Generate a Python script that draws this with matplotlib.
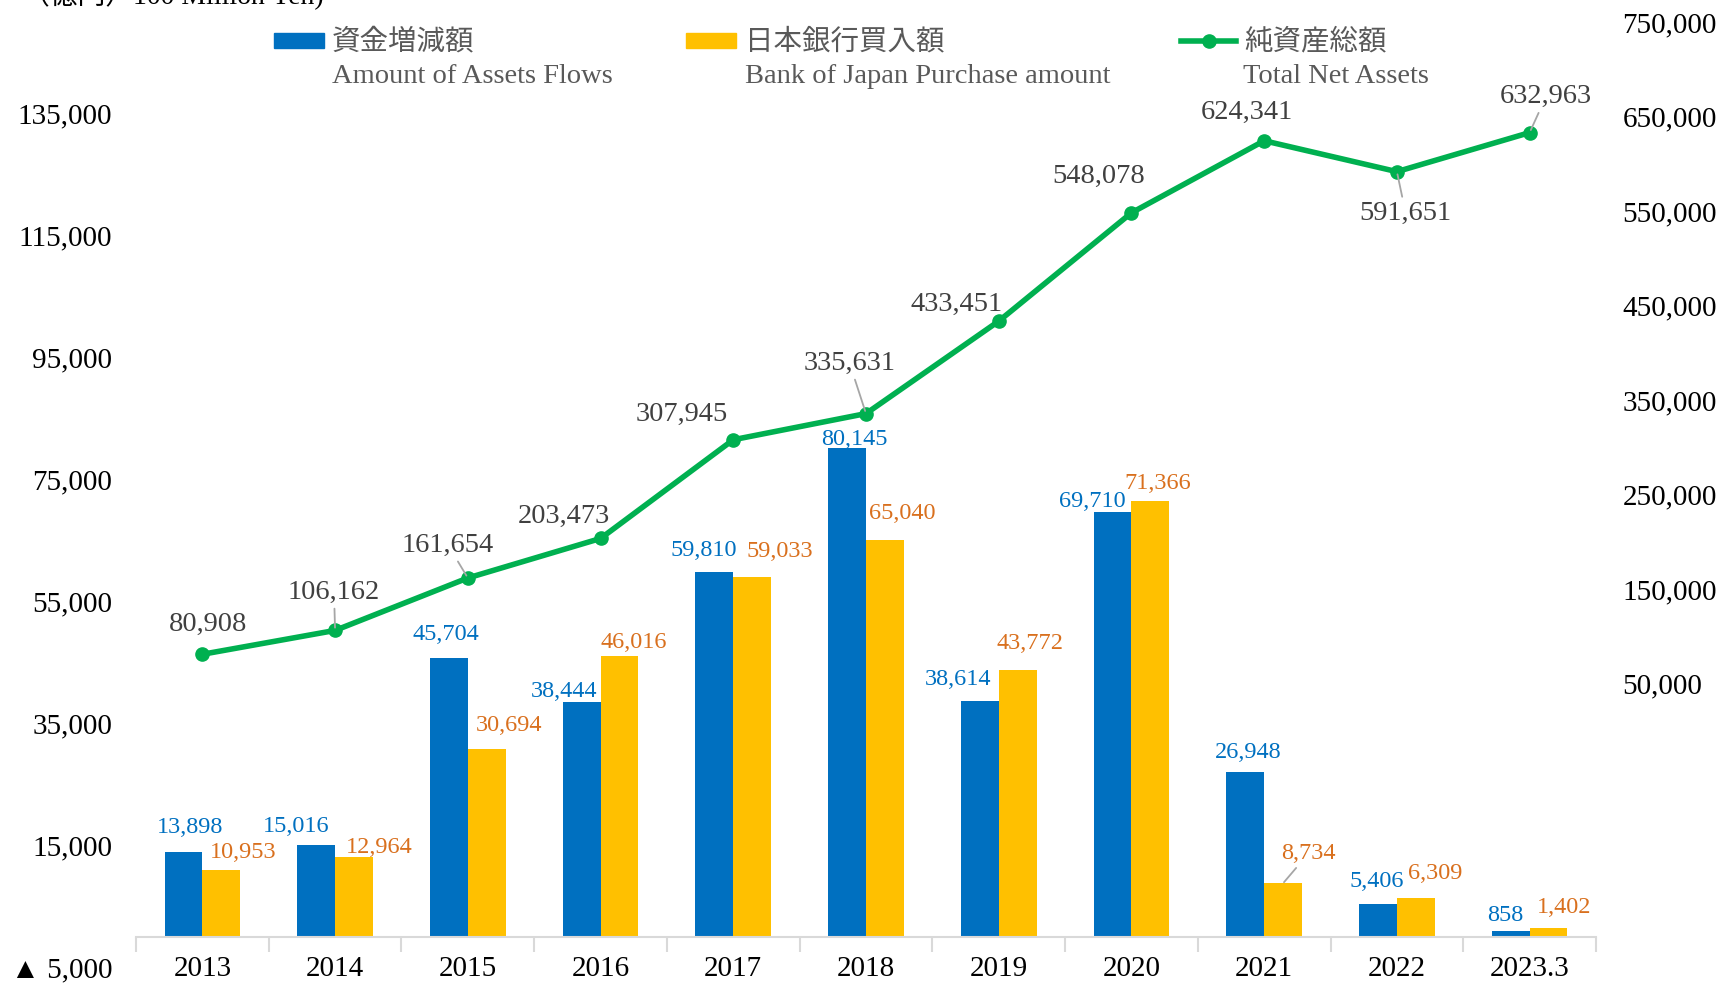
import numpy as np
import matplotlib.pyplot as plt
from matplotlib.patches import Rectangle
from matplotlib.lines import Line2D
from matplotlib.ticker import FuncFormatter

# datos
years = ['2013', '2014', '2015', '2016', '2017', '2018', '2019', '2020', '2021', '2022', '2023.3']
flows = [13898, 15016, 45704, 38444, 59810, 80145, 38614, 69710, 26948, 5406, 858]
boj = [10953, 12964, 30694, 46016, 59033, 65040, 43772, 71366, 8734, 6309, 1402]
net_assets = [80908, 106162, 161654, 203473, 307945, 335631, 433451, 548078, 624341, 591651, 632963]

left_ticks = list(range(-5000, 150000, 20000))
right_ticks = list(range(50000, 800000, 100000))

# desplazamientos de etiquetas (px de la imagen reducida: dx, dy hacia abajo)
off_flow = [(6, -22), (-18, -17), (-3, -21), (-16, -10), (-10, -19), (7, -8),
            (-20, -20), (-18, -9), (3, -18), (-1, -20), (-5, -14)]
off_boj = [(20, -16), (23, -9), (20, -22), (13, -12), (25, -23), (16, -24),
           (11, -24), (7, -16), (23, -27), (18, -22), (14, -19)]
lead_boj = [False] * 8 + [True, False, False]
off_net = [(5, -27), (-1, -35), (-18, -30), (-33, -20), (-47, -23), (-15, -46),
           (-38, -15), (-30, -33), (-16, -26), (8, 38), (15, -33)]
lead_net = [False, True, True, False, False, True, False, False, False, True, True]

BLUE = '#0070C0'
ORANGE = '#FFC000'
GREEN = '#00B050'
BLUE_TXT = '#0070C0'
ORANGE_TXT = '#D9701E'
GRAY_TXT = '#404040'
LEAD = '#A6A6A6'
K = 1723 / 1568  # escala imagen reducida -> real

plt.rcParams['font.family'] = ['Liberation Serif', 'DejaVu Sans', 'Noto Sans CJK JP']

fig = plt.figure(figsize=(17.23, 9.85), dpi=100)
ax = fig.add_axes([136 / 1723, 18 / 985, (1596 - 136) / 1723, (967 - 22) / 985])
ax2 = ax.twinx()

x = np.arange(len(years))
w = 0.285
ax.bar(x - w / 2, flows, width=w, color=BLUE, zorder=2)
ax.bar(x + w / 2, boj, width=w, color=ORANGE, zorder=2)

ax2.plot(x, net_assets, color=GREEN, lw=4, marker='o', markersize=9.5, zorder=3)

ax.set_xlim(-0.5, len(years) - 0.5)
ax.set_ylim(-5000, 150000)
ax2.set_ylim(-250000, 750000)

# ejes
for a in (ax, ax2):
    for s in a.spines.values():
        s.set_visible(False)
ax.spines['bottom'].set_visible(True)
ax.spines['bottom'].set_position(('data', 0))
ax.spines['bottom'].set_color('#D9D9D9')
ax.spines['bottom'].set_linewidth(1.5)

ax.set_xticks(np.arange(-0.5, len(years), 1.0))
ax.set_xticklabels([])
ax.tick_params(axis='x', which='major', length=11, width=1.5, color='#D9D9D9', direction='out')
ax.set_xticks(x, minor=True)
ax.set_xticklabels(years, minor=True)
ax.tick_params(axis='x', which='minor', length=0, pad=14, labelsize=21)

ax.set_yticks(left_ticks)
ax.yaxis.set_major_formatter(FuncFormatter(
    lambda v, p: ('▲ ' if v < 0 else '') + f'{abs(int(v)):,}'))
ax.tick_params(axis='y', length=0, pad=17, labelsize=21)

ax2.set_yticks(right_ticks)
ax2.yaxis.set_major_formatter(FuncFormatter(lambda v, p: f'{int(v):,}'))
ax2.tick_params(axis='y', length=0, pad=19, labelsize=21)

# etiquetas de datos
for i in range(len(years)):
    dx, dy = off_flow[i]
    ax.annotate(f'{flows[i]:,}', (x[i] - w / 2, flows[i]), xytext=(dx * K, -dy * K),
                textcoords='offset pixels', ha='center', va='center',
                fontsize=17.5, color=BLUE_TXT, zorder=5)
    dx, dy = off_boj[i]
    ax.annotate(f'{boj[i]:,}', (x[i] + w / 2, boj[i]), xytext=(dx * K, -dy * K),
                textcoords='offset pixels', ha='center', va='center',
                fontsize=17.5, color=ORANGE_TXT, zorder=5,
                arrowprops=dict(arrowstyle='-', color=LEAD, lw=1.3, shrinkA=1, shrinkB=1)
                if lead_boj[i] else None)
    dx, dy = off_net[i]
    ax2.annotate(f'{net_assets[i]:,}', (x[i], net_assets[i]), xytext=(dx * K, -dy * K),
                 textcoords='offset pixels', ha='center', va='center',
                 fontsize=20.5, color=GRAY_TXT, zorder=5,
                 arrowprops=dict(arrowstyle='-', color=LEAD, lw=1.3, shrinkA=1, shrinkB=2)
                 if lead_net[i] else None)

# leyenda manual
def fy(y):
    return 1 - y * K / 985

def fx(xv):
    return xv * K / 1723

fig.patches.append(Rectangle((fx(249), fy(44)), fx(295) - fx(249), fy(30) - fy(44),
                             transform=fig.transFigure, color=BLUE))
fig.patches.append(Rectangle((fx(624), fy(44)), fx(670) - fx(624), fy(30) - fy(44),
                             transform=fig.transFigure, color=ORANGE))
fig.lines.append(Line2D([fx(1075), fx(1125)], [fy(37), fy(37)], transform=fig.transFigure,
                        color=GREEN, lw=4))
fig.lines.append(Line2D([fx(1100)], [fy(37)], transform=fig.transFigure,
                        color=GREEN, marker='o', markersize=9.5, lw=0))

legend_jp = [(302, '資金増減額'), (678, '日本銀行買入額'), (1132, '純資産総額')]
legend_en = [(302, 'Amount of Assets Flows'), (678, 'Bank of Japan Purchase amount'),
             (1131, 'Total Net Assets')]
for xv, t in legend_jp:
    fig.text(fx(xv), fy(38), t, family='Noto Sans CJK JP', fontsize=20.5,
             color='#595959', ha='left', va='center')
for xv, t in legend_en:
    fig.text(fx(xv), fy(70), t, fontsize=20.5, color='#595959', ha='left', va='center')

# titulo de unidades (cortado en el original)
fig.text(fx(20), fy(-4), '（億円）100 Million Yen)', fontsize=20, color='#000000',
         ha='left', va='center', family=['Liberation Serif', 'Noto Sans CJK JP'])

fig.savefig('out.png', dpi=100)
